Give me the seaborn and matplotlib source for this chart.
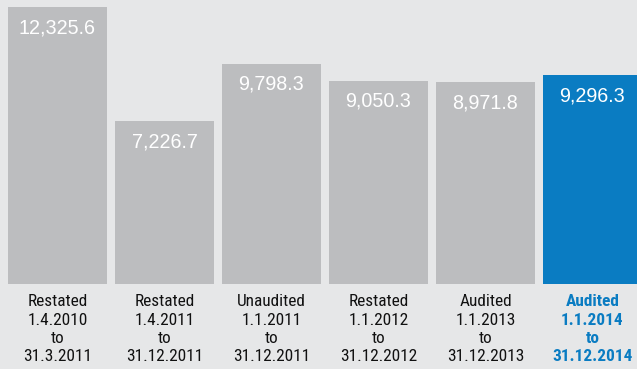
import matplotlib
matplotlib.use("Agg")
import matplotlib.pyplot as plt
import seaborn as sns
import pandas as pd

# Revenue per reporting period
periods = [
    "Restated\n1.4.2010\nto\n31.3.2011",
    "Restated\n1.4.2011\nto\n31.12.2011",
    "Unaudited\n1.1.2011\nto\n31.12.2011",
    "Restated\n1.1.2012\nto\n31.12.2012",
    "Audited\n1.1.2013\nto\n31.12.2013",
    "Audited\n1.1.2014\nto\n31.12.2014",
]
values = [12325.6, 7226.7, 9798.3, 9050.3, 8971.8, 9296.3]
value_labels = ["12,325.6", "7,226.7", "9,798.3", "9,050.3", "8,971.8", "9,296.3"]

BG = "#e6e7e8"
GREY = "#bcbdbf"
BLUE = "#0a7cc2"
bar_colors = [GREY] * 5 + [BLUE]

NARROW = ["Liberation Sans Narrow", "DejaVu Sans Condensed", "Roboto Condensed",
          "Open Sans Condensed", "DejaVu Sans"]

sns.set_theme(style="white")

df = pd.DataFrame({"period": periods, "value": values})

fig = plt.figure(figsize=(6.37, 3.69), dpi=100, facecolor=BG)
ax = fig.add_axes([0, 85.3 / 369, 1, 283.7 / 369])
ax.set_facecolor(BG)

sns.barplot(data=df, x="period", y="value", hue="period", palette=bar_colors,
            width=0.925, legend=False, ax=ax, saturation=1, linewidth=0)

ax.set_xlim(-0.537, 5.416)
ax.set_ylim(0, 12638)
ax.set_xlabel("")
ax.set_ylabel("")
ax.set_yticks([])
for s in ax.spines.values():
    s.set_visible(False)

# value labels inside the top of each bar
for i, (v, lab) in enumerate(zip(values, value_labels)):
    ax.annotate(lab, xy=(i, v), xytext=(0, -26), textcoords="offset pixels",
                ha="center", va="baseline", color="white",
                fontsize=14.2, family=["Liberation Sans", "DejaVu Sans"])

# period labels under the bars
ax.tick_params(axis="x", length=0, pad=7.7)
ax.set_xticks(range(len(periods)))
ax.set_xticklabels(periods, family=NARROW, fontstretch="condensed",
                   fontsize=12.4, color="#111111", linespacing=1.27)
last = ax.get_xticklabels()[-1]
last.set_color(BLUE)
last.set_fontweight("bold")

fig.savefig("out.png", dpi=100, facecolor=BG)
